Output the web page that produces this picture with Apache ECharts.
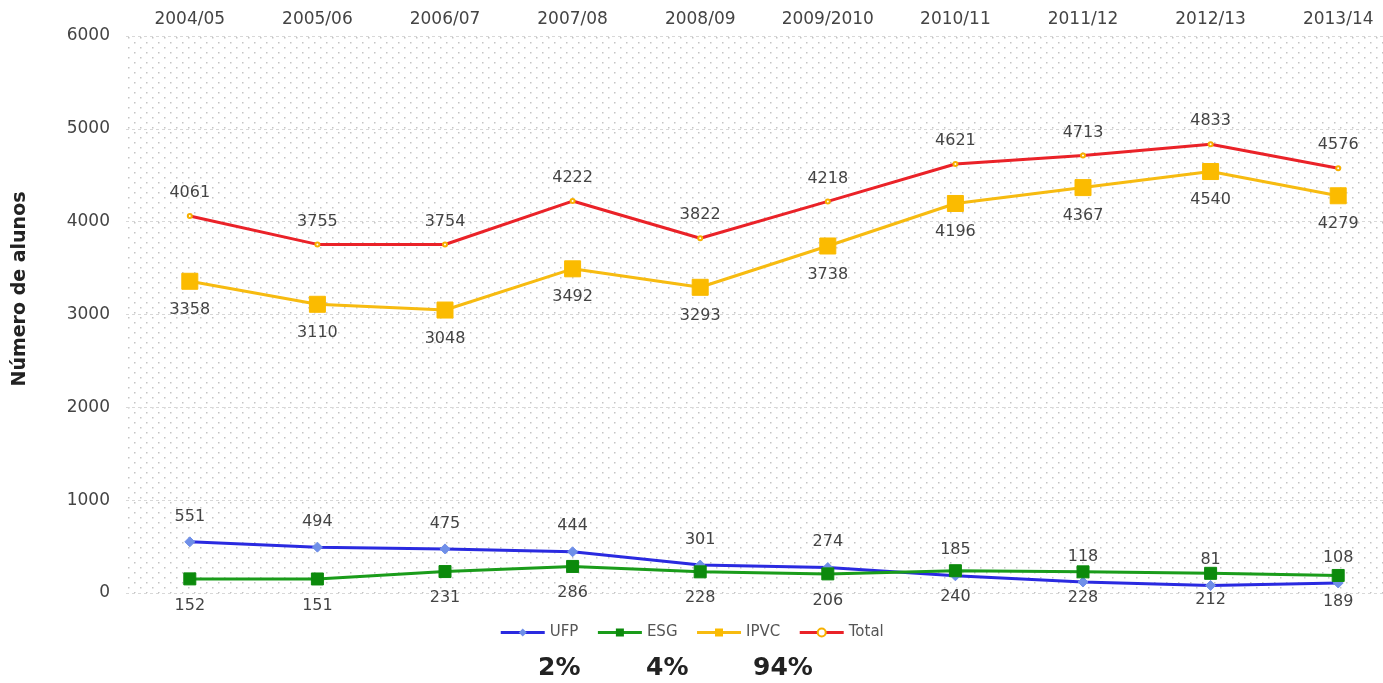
<!DOCTYPE html>
<html>
<head>
<meta charset="utf-8">
<script src="https://cdn.jsdelivr.net/npm/echarts@6/dist/echarts.min.js"></script>
<style>
html,body{margin:0;padding:0;background:#fff;overflow:hidden;}
#main{width:1383px;height:683px;}
</style>
</head>
<body>
<div id="main"></div>
<script>
var years=['2004/05','2005/06','2006/07','2007/08','2008/09','2009/2010','2010/11','2011/12','2012/13','2013/14'];
var ufp=[551,494,475,444,301,274,185,118,81,108];
var esg=[152,151,231,286,228,206,240,228,212,189];
var ipvc=[3358,3110,3048,3492,3293,3738,4196,4367,4540,4279];
var total=[4061,3755,3754,4222,3822,4218,4621,4713,4833,4576];
var shares=['2%','4%','94%'];

// dotted background like the original
function dot_pattern(){
	var c=document.createElement('canvas');
	c.width=12;c.height=10;
	var ctx=c.getContext('2d');
	ctx.fillStyle='#fff';
	ctx.fillRect(0,0,12,10);
	ctx.fillStyle='#c4c4c4';
	ctx.fillRect(2,2,1.5,1.5);
	ctx.fillRect(8,7,1.5,1.5);
	return c;
}

var myChart=echarts.init(document.getElementById('main'));
var lblFont={color:'#444',fontSize:16,fontFamily:'DejaVu Sans'};

function make_series(name,data,color,symbol,size,symColor,pos){
	return {
		name:name,
		type:'line',
		data:data,
		symbol:symbol,
		symbolSize:size,
		lineStyle:{color:color,width:3},
		itemStyle:{color:symColor,borderColor:symColor},
		label:Object.assign({show:true,position:pos,distance:12},lblFont),
		z:3
	};
}

var option={
	animation:false,
	grid:{left:126,right:-19,top:36,bottom:90,show:true,borderWidth:0,
		outerBoundsMode:'none',containLabel:false,
		backgroundColor:{image:dot_pattern(),repeat:'repeat'}},
	legend:{
		bottom:38,left:'center',itemWidth:44,itemHeight:10,itemGap:18,
		itemStyle:{},
		lineStyle:{width:3},
		textStyle:{color:'#555',fontSize:15,fontFamily:'DejaVu Sans'},
		data:['UFP','ESG','IPVC','Total']
	},
	xAxis:{
		type:'category',
		position:'top',
		data:years,
		axisLine:{show:false},
		axisTick:{show:false},
		axisLabel:{color:'#444',fontSize:17,fontFamily:'DejaVu Sans',margin:8}
	},
	yAxis:{
		type:'value',
		min:0,max:6000,interval:1000,
		axisLine:{show:false},
		axisTick:{show:false},
		axisLabel:{color:'#444',fontSize:17,fontFamily:'DejaVu Sans',margin:16,
			formatter:function(v){return String(v);}},
		splitLine:{show:true,lineStyle:{color:'#d8d8d8',type:[3,3],width:1}}
	},
	series:[
		make_series('UFP',ufp,'#2a2ae0','diamond',10,'#6f8fe8','top'),
		make_series('ESG',esg,'#1a9c1a','rect',12,'#0c8a0c','bottom'),
		make_series('IPVC',ipvc,'#f7bb10','rect',16,'#fbbb00','bottom'),
		make_series('Total',total,'#ea2228','emptyCircle',4,'#f7b000','top')
	],
	graphic:[
		{type:'text',x:20,y:289,rotation:Math.PI/2,
			style:{text:'Número de alunos',font:'bold 19px "DejaVu Sans"',fill:'#222',align:'center',verticalAlign:'middle'}},
		{type:'text',left:538,top:656,style:{text:shares[0],font:'bold 25px "DejaVu Sans"',fill:'#222'}},
		{type:'text',left:646,top:656,style:{text:shares[1],font:'bold 25px "DejaVu Sans"',fill:'#222'}},
		{type:'text',left:753,top:656,style:{text:shares[2],font:'bold 25px "DejaVu Sans"',fill:'#222'}}
	]
};
myChart.setOption(option);
</script>
</body>
</html>
